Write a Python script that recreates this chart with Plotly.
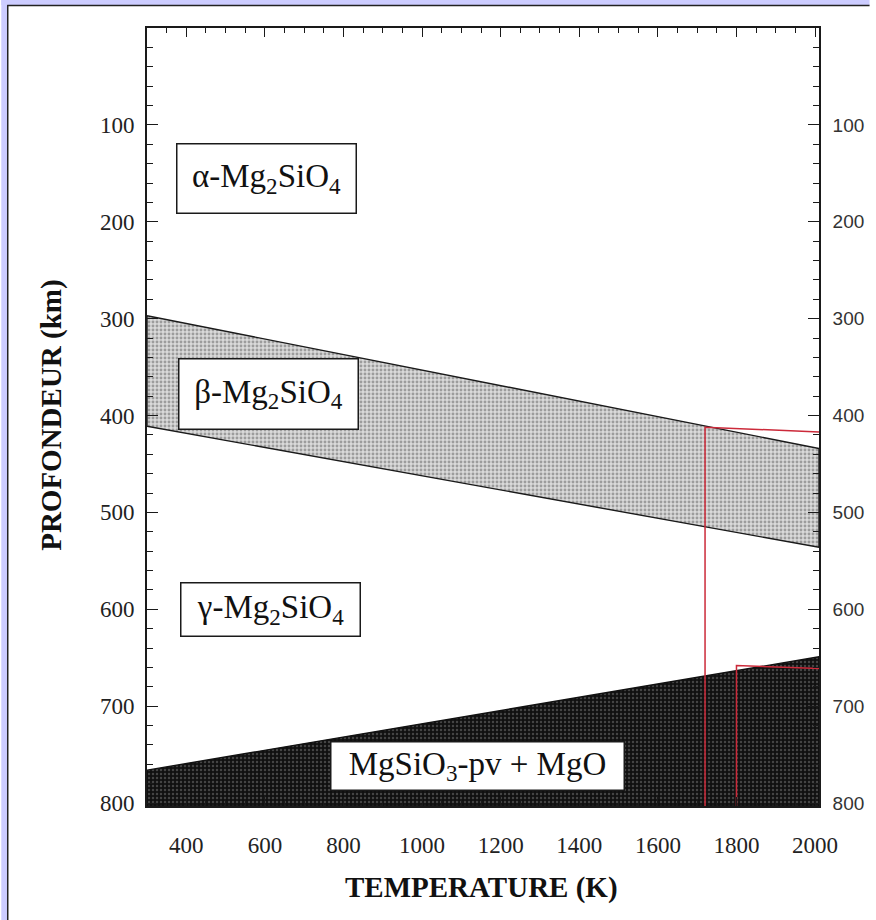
import plotly.graph_objects as go

# ---- data ----
temp_ends = [300, 2010]                 # K, left and right edges of the diagram
beta_top = [297, 434]                   # km, upper boundary of beta field
beta_bottom = [411, 536]                # km, lower boundary of beta field
pv_top = [766, 649]                     # km, upper boundary of perovskite + MgO field
depth_max = 803                         # km, bottom of diagram

red1_T = [1720, 1720, 2010]
red1_depth = [803, 412, 417]
red2_T = [1800, 1800, 2010]
red2_depth = [803, 658, 661]

x_ticks = [400, 600, 800, 1000, 1200, 1400, 1600, 1800, 2000]
y_ticks = [100, 200, 300, 400, 500, 600, 700, 800]

labels = ["α-Mg<sub>2</sub>SiO<sub>4</sub>", "β-Mg<sub>2</sub>SiO<sub>4</sub>",
          "γ-Mg<sub>2</sub>SiO<sub>4</sub>", "MgSiO<sub>3</sub>-pv + MgO"]
label_T = [605, 610, 613, 1140]
label_depth = [155, 378, 600, 762]
label_w = [172, 172, 172, 286]
label_h = [62, 63, 46, 41]

SERIF = "Liberation Serif, Times New Roman, serif"
SANS = "Liberation Sans, Arial, sans-serif"

fig = go.Figure()

# beta field (stippled grey band)
fig.add_trace(go.Scatter(
    x=[temp_ends[0], temp_ends[1], temp_ends[1], temp_ends[0], temp_ends[0]],
    y=[beta_top[0], beta_top[1], beta_bottom[1], beta_bottom[0], beta_top[0]],
    mode="lines", fill="toself", line=dict(color="#1a1a1a", width=1.4),
    fillcolor="#cccccc",
    fillpattern=dict(shape=".", bgcolor="#dadada", fgcolor="#5e5e5e", size=4, solidity=0.42),
    hoverinfo="skip", showlegend=False))

# perovskite + MgO field (dark stipple)
fig.add_trace(go.Scatter(
    x=[temp_ends[0], temp_ends[1], temp_ends[1], temp_ends[0], temp_ends[0]],
    y=[pv_top[0], pv_top[1], depth_max, depth_max, pv_top[0]],
    mode="lines", fill="toself", line=dict(color="#111111", width=1.4),
    fillcolor="#151515",
    fillpattern=dict(shape=".", bgcolor="#101010", fgcolor="#777777", size=4, solidity=0.3),
    hoverinfo="skip", showlegend=False))

# red construction lines (on the overlay axes, same ranges)
for tx, dy in [(red1_T, red1_depth), (red2_T, red2_depth)]:
    fig.add_trace(go.Scatter(x=tx, y=dy, mode="lines", xaxis="x2", yaxis="y2",
                             line=dict(color="#cc2a3a", width=1.5),
                             hoverinfo="skip", showlegend=False))

xr = [temp_ends[0], temp_ends[1]]
yr = [depth_max, 0]

common_line = dict(showline=True, linecolor="#1a1a1a", linewidth=1.6,
                   showgrid=False, zeroline=False)

fig.update_layout(
    width=876, height=920,
    margin=dict(l=147, r=51, t=28, b=114),
    paper_bgcolor="white", plot_bgcolor="white",
    xaxis=dict(range=xr, tickvals=x_ticks, ticks="inside", ticklen=9, tickwidth=1.4,
               tickcolor="#1a1a1a",
               minor=dict(dtick=50, tick0=0, ticks="inside", ticklen=5, tickcolor="#1a1a1a",
                          tickwidth=1.2),
               tickfont=dict(family=SERIF, size=23, color="#222"),
               ticklabelstandoff=18, **common_line),
    xaxis2=dict(range=xr, overlaying="x", side="top", tickvals=x_ticks, ticks="inside",
                ticklen=9, tickwidth=1.4, tickcolor="#1a1a1a", showticklabels=False,
                minor=dict(dtick=50, tick0=0, ticks="inside", ticklen=5, tickcolor="#1a1a1a",
                           tickwidth=1.2),
                **common_line),
    yaxis=dict(range=yr, tickvals=y_ticks, ticks="inside", ticklen=11, tickwidth=1.4,
               tickcolor="#1a1a1a",
               minor=dict(dtick=20, tick0=0, ticks="inside", ticklen=6, tickcolor="#1a1a1a",
                          tickwidth=1.2),
               tickfont=dict(family=SERIF, size=23, color="#222"),
               ticklabelstandoff=6, **common_line),
    yaxis2=dict(range=yr, overlaying="y", side="right", tickvals=y_ticks, ticks="inside",
                ticklen=11, tickwidth=1.4, tickcolor="#1a1a1a",
                minor=dict(dtick=20, tick0=0, ticks="inside", ticklen=6, tickcolor="#1a1a1a",
                           tickwidth=1.2),
                tickfont=dict(family=SANS, size=19, color="#333"),
                ticklabelstandoff=8, **common_line),
)

# phase labels in boxes
for txt, tx, dy, w, h in zip(labels, label_T, label_depth, label_w, label_h):
    fig.add_annotation(x=tx, y=dy, xref="x", yref="y", text=txt, showarrow=False,
                       font=dict(family=SERIF, size=33, color="#111"),
                       bgcolor="white", bordercolor="#1a1a1a", borderwidth=1.5,
                       borderpad=3, width=w, height=h, align="center", valign="middle")

# axis titles
fig.add_annotation(x=-0.1416, y=0.5026, xref="paper", yref="paper", text="<b>PROFONDEUR (km)</b>",
                   textangle=-90, showarrow=False, xanchor="center", yanchor="middle",
                   font=dict(family=SERIF, size=29, color="#111"))
fig.add_annotation(x=0.4985, y=-0.105, xref="paper", yref="paper", text="<b>TEMPERATURE (K)</b>",
                   showarrow=False, xanchor="center", yanchor="middle",
                   font=dict(family=SERIF, size=29, color="#111"))

# lavender frame strips of the page (top and left) with dark edge
W_plot, H_plot = 678.0, 778.0
def px(xp):
    return (xp - 147) / W_plot
def py(yp):
    return (806 - yp) / H_plot

fig.add_shape(type="rect", xref="paper", yref="paper", x0=px(0), x1=px(876), y0=py(5), y1=py(0),
              fillcolor="#ccccff", line=dict(width=0), layer="above")
fig.add_shape(type="rect", xref="paper", yref="paper", x0=px(0), x1=px(6), y0=py(920), y1=py(0),
              fillcolor="#ccccff", line=dict(width=0), layer="above")
fig.add_shape(type="line", xref="paper", yref="paper", x0=px(6), x1=px(876), y0=py(5.5), y1=py(5.5),
              line=dict(color="#222", width=1.5), layer="above")
fig.add_shape(type="line", xref="paper", yref="paper", x0=px(6.5), x1=px(6.5), y0=py(920), y1=py(5),
              line=dict(color="#222", width=1.5), layer="above")

fig.write_html("out.html", config={"displayModeBar": False},
               post_script="document.body.style.margin='0';document.body.style.overflow='hidden';")
